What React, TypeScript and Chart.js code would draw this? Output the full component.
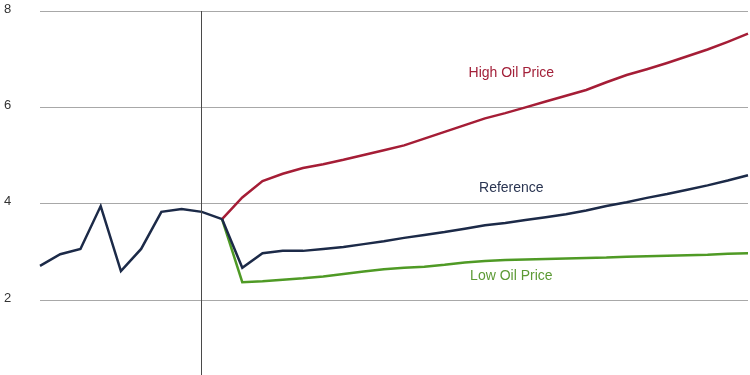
import React, { useEffect, useRef } from "react";
import { Chart, registerables } from "chart.js";

Chart.register(...registerables);

const years: string[] = Array.from({ length: 36 }, (_, i) => String(2005 + i));

const history: (number | null)[] = [
  2.71, 2.95, 3.06, 3.95, 2.6, 3.06, 3.83, 3.89, 3.83, 3.68,
];

const reference: number[] = [
  3.68, 2.67, 2.97, 3.02, 3.02, 3.06, 3.1, 3.16, 3.22, 3.29, 3.35, 3.41, 3.48,
  3.55, 3.6, 3.66, 3.72, 3.78, 3.86, 3.95, 4.03, 4.12, 4.2, 4.29, 4.38, 4.48,
  4.59, 4.7,
];

const highOil: number[] = [
  3.68, 4.13, 4.47, 4.62, 4.74, 4.82, 4.91, 5.01, 5.11, 5.21, 5.35, 5.49, 5.63,
  5.77, 5.88, 6.0, 6.12, 6.24, 6.36, 6.52, 6.67, 6.79, 6.92, 7.06, 7.2, 7.36,
  7.53,
];

const lowOil: number[] = [
  3.68, 2.37, 2.39, 2.42, 2.45, 2.49, 2.54, 2.59, 2.64, 2.67, 2.69, 2.73, 2.78,
  2.81, 2.83, 2.84, 2.85, 2.86, 2.87, 2.88, 2.9, 2.91, 2.92, 2.93, 2.94, 2.96,
  2.97,
];

const forecastStart = 9;
const dividerIndex = 8;
const yTicks = [2, 4, 6, 8];

const labelTexts = ["High Oil Price", "Reference", "Low Oil Price"];
const labelColors = ["#a3213a", "#2a3552", "#5c9a35"];
const labelX = [23.3, 23.3, 23.3];
const labelY = [6.71, 4.33, 2.5];

const NAVY = "#1c2a48";
const RED = "#a51d36";
const GREEN = "#4f9a25";

function pad(series: number[]): (number | null)[] {
  return years.map((_, i) =>
    i < forecastStart ? null : series[i - forecastStart] ?? null
  );
}

const overlayPlugin = {
  id: "overlay",
  afterDatasetsDraw(chart: any) {
    const { ctx, chartArea, scales } = chart;
    const x = Math.round(scales.x.getPixelForValue(dividerIndex)) - 0.5;
    ctx.save();
    ctx.strokeStyle = "#4a4a4a";
    ctx.lineWidth = 1;
    ctx.beginPath();
    ctx.moveTo(x, chartArea.top);
    ctx.lineTo(x, chartArea.bottom);
    ctx.stroke();
    ctx.font = "14px 'Liberation Sans', Arial, sans-serif";
    ctx.textAlign = "center";
    ctx.textBaseline = "middle";
    labelTexts.forEach((t, i) => {
      ctx.fillStyle = labelColors[i];
      ctx.fillText(
        t,
        scales.x.getPixelForValue(labelX[i]),
        scales.y.getPixelForValue(labelY[i])
      );
    });
    ctx.restore();
  },
};

export default function App() {
  const canvasRef = useRef<HTMLCanvasElement | null>(null);

  useEffect(() => {
    document.body.style.margin = "0";
    const canvas = canvasRef.current;
    if (!canvas) return;
    const chart = new Chart(canvas, {
      type: "line",
      data: {
        labels: years,
        datasets: [
          {
            label: "History",
            data: history.concat(years.slice(history.length).map(() => null)),
            borderColor: NAVY,
            borderWidth: 2.5,
            pointRadius: 0,
            tension: 0,
          },
          {
            label: "Reference",
            data: pad(reference),
            borderColor: NAVY,
            borderWidth: 2.5,
            pointRadius: 0,
            tension: 0,
          },
          {
            label: "High Oil Price",
            data: pad(highOil),
            borderColor: RED,
            borderWidth: 2.5,
            pointRadius: 0,
            tension: 0,
          },
          {
            label: "Low Oil Price",
            data: pad(lowOil),
            borderColor: GREEN,
            borderWidth: 2.5,
            pointRadius: 0,
            tension: 0,
          },
        ],
      },
      options: {
        animation: false,
        responsive: false,
        maintainAspectRatio: false,
        layout: { padding: { top: 11, left: 4, right: 2, bottom: 0 } },
        plugins: {
          legend: { display: false },
          tooltip: { enabled: false },
        },
        scales: {
          x: {
            type: "category",
            offset: false,
            display: false,
          },
          y: {
            min: 0.443,
            max: 8,
            border: { display: false },
            grid: {
              color: "#a8a8a8",
              lineWidth: 1,
              drawTicks: false,
            },
            afterBuildTicks(scale: any) {
              scale.ticks = yTicks.map((v) => ({ value: v }));
            },
            afterFit(scale: any) {
              scale.width = 36;
              scale.paddingTop = 0;
              scale.paddingBottom = 0;
            },
            ticks: {
              crossAlign: "far",
              labelOffset: -2,
              color: "#333333",
              font: { family: "'Liberation Sans', Arial, sans-serif", size: 13 },
              callback: (v: any) => String(v),
            },
          },
        },
      },
      plugins: [overlayPlugin],
    });
    return () => chart.destroy();
  }, []);

  return (
    <div style={{ width: 750, height: 375 }}>
      <canvas ref={canvasRef} width={750} height={375} style={{ display: "block" }} />
    </div>
  );
}
